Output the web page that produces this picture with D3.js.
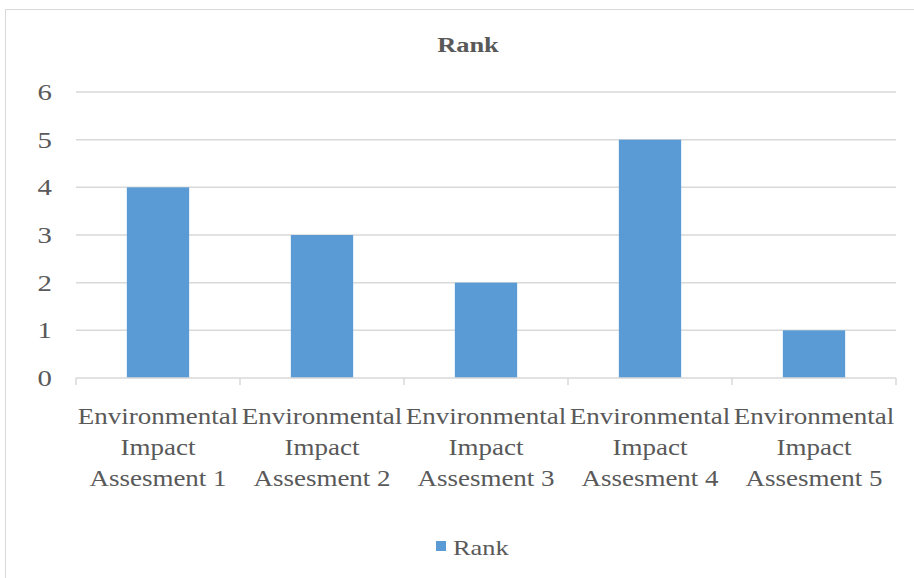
<!DOCTYPE html>
<html>
<head>
<meta charset="utf-8">
<script src="https://cdn.jsdelivr.net/npm/d3@7/dist/d3.min.js"></script>
<style>
  html, body { margin: 0; padding: 0; background: #fff; }
  svg { display: block; }
  text { font-family: "Liberation Serif", "Times New Roman", serif; fill: #595959; }
</style>
</head>
<body>
<svg id="chart" width="914" height="578"></svg>
<script>
const categories = [
  ["Environmental", "Impact", "Assesment 1"],
  ["Environmental", "Impact", "Assesment 2"],
  ["Environmental", "Impact", "Assesment 3"],
  ["Environmental", "Impact", "Assesment 4"],
  ["Environmental", "Impact", "Assesment 5"]
];
const rankValues = [4, 3, 2, 5, 1];
const yTicks = [0, 1, 2, 3, 4, 5, 6];
const seriesName = "Rank";
const chartTitle = "Rank";

const svg = d3.select("#chart");
const W = 914, H = 578;
const plot = { left: 76, right: 896, top: 92, bottom: 378 };
const barColor = "#5b9bd5";
const gridColor = "#d9d9d9";
const stretch = 1.2; // wide lettering

// text helper: places a horizontally widened label at (x, y)
function label(parent, x, y, str, opts = {}) {
  return parent.append("text")
    .attr("transform", `translate(${x},${y}) scale(${opts.sx || stretch},1)`)
    .attr("text-anchor", opts.anchor || "middle")
    .attr("font-size", opts.size || 22)
    .attr("font-weight", opts.weight || "normal")
    .attr("dy", opts.dy || 0)
    .text(str);
}

// outer chart frame
svg.append("rect")
  .attr("x", 5.5).attr("y", 9.5)
  .attr("width", W + 10).attr("height", H + 10)
  .attr("fill", "#fff").attr("stroke", "#d9d9d9").attr("stroke-width", 1);

const labels = categories.map(c => c.join(" "));

const x = d3.scaleBand()
  .domain(labels)
  .range([plot.left, plot.right])
  .paddingInner(0.62)
  .paddingOuter(0.31);

const y = d3.scaleLinear()
  .domain([0, 6])
  .range([plot.bottom, plot.top]);

// horizontal gridlines
svg.append("g")
  .selectAll("line")
  .data(yTicks.filter(t => t > 0))
  .join("line")
  .attr("x1", plot.left).attr("x2", plot.right)
  .attr("y1", d => y(d)).attr("y2", d => y(d))
  .attr("stroke", gridColor).attr("stroke-width", 1.5);

// y tick labels
const gy = svg.append("g");
yTicks.forEach(t => {
  label(gy, 52, y(t), d3.format("d")(t), { anchor: "end", size: 24, dy: "0.34em" });
});

// bars
svg.append("g")
  .selectAll("rect")
  .data(rankValues)
  .join("rect")
  .attr("x", (d, i) => x(labels[i]))
  .attr("y", d => y(d))
  .attr("width", x.bandwidth())
  .attr("height", d => y(0) - y(d))
  .attr("fill", barColor);

// category axis with tick marks at band boundaries
const edgeXs = d3.range(labels.length + 1).map(i => plot.left + i * x.step());
svg.append("line")
  .attr("x1", plot.left).attr("x2", plot.right)
  .attr("y1", plot.bottom).attr("y2", plot.bottom)
  .attr("stroke", gridColor).attr("stroke-width", 1.5);
svg.append("g")
  .selectAll("line")
  .data(edgeXs)
  .join("line")
  .attr("x1", d => d).attr("x2", d => d)
  .attr("y1", plot.bottom).attr("y2", plot.bottom + 7)
  .attr("stroke", gridColor).attr("stroke-width", 1.5);

// category labels (three lines each)
const catG = svg.append("g");
categories.forEach((lines, i) => {
  const cx = x(labels[i]) + x.bandwidth() / 2;
  lines.forEach((ln, j) => {
    label(catG, cx, 424 + j * 31, ln, { size: 22.5, sx: 1.2 });
  });
});

// title
label(svg, 468, 52, chartTitle, { size: 22, weight: "bold" });

// legend
const legend = svg.append("g");
legend.append("rect")
  .attr("x", 436).attr("y", 541)
  .attr("width", 10).attr("height", 10)
  .attr("fill", barColor);
label(legend, 453, 555, seriesName, { anchor: "start", size: 22 });
</script>
</body>
</html>
